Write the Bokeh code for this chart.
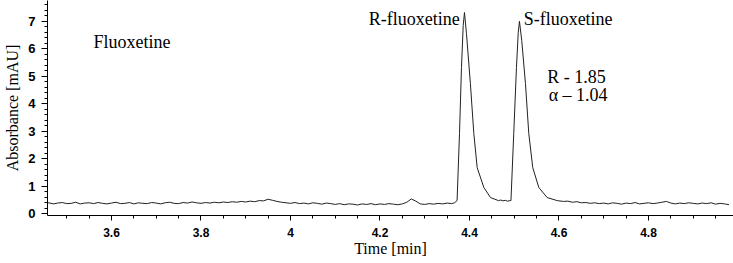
from bokeh.plotting import figure
from bokeh.models import Label, Range1d, FixedTicker
from bokeh.embed import file_html
from bokeh.resources import INLINE

# ---- data ----
base1_t = [3.45, 3.46, 3.47, 3.48, 3.49, 3.50, 3.51, 3.52, 3.53, 3.54, 3.55, 3.56, 3.57, 3.58, 3.59,
           3.60, 3.61, 3.62, 3.63, 3.64, 3.65, 3.66, 3.67, 3.68, 3.69,
           3.70, 3.71, 3.72, 3.73, 3.74, 3.75, 3.76, 3.77, 3.78, 3.79,
           3.80, 3.81, 3.82, 3.83, 3.84, 3.85, 3.86, 3.87, 3.88, 3.89,
           3.90, 3.91, 3.92, 3.93, 3.94, 3.95, 3.96, 3.97, 3.98, 3.99,
           4.00, 4.01, 4.02, 4.03, 4.04, 4.05, 4.06, 4.07, 4.08, 4.09,
           4.10, 4.11, 4.12, 4.13, 4.14, 4.15, 4.16, 4.17, 4.18, 4.19,
           4.20, 4.21, 4.22, 4.23, 4.24, 4.25, 4.26, 4.27, 4.28, 4.29,
           4.30, 4.31, 4.32, 4.33, 4.34, 4.35, 4.36]
base1_a = [0.37, 0.40, 0.36, 0.39, 0.41, 0.37, 0.38, 0.42, 0.36, 0.39, 0.40, 0.37, 0.41, 0.38, 0.36,
           0.39, 0.42, 0.37, 0.38, 0.41, 0.36, 0.40, 0.38, 0.37, 0.41,
           0.39, 0.36, 0.40, 0.42, 0.38, 0.37, 0.41, 0.39, 0.43, 0.40,
           0.38, 0.41, 0.39, 0.42, 0.40, 0.43, 0.41, 0.44, 0.42, 0.45,
           0.43, 0.46, 0.44, 0.48, 0.47, 0.53, 0.49, 0.45, 0.42, 0.40,
           0.38, 0.41, 0.37, 0.39, 0.36, 0.40, 0.38, 0.35, 0.39, 0.37,
           0.34, 0.37, 0.33, 0.36, 0.35, 0.32, 0.36, 0.34, 0.37, 0.33,
           0.36, 0.34, 0.37, 0.35, 0.33, 0.36, 0.42, 0.54, 0.46, 0.36,
           0.34, 0.37, 0.35, 0.38, 0.36, 0.39, 0.37]

# R-fluoxetine peak
peakR_t = [4.3665, 4.3723, 4.3777, 4.3821, 4.3860, 4.3888, 4.3933, 4.4020, 4.4097, 4.4172, 4.4320, 4.4470, 4.4648]
peakR_a = [0.40, 0.48, 2.92, 5.32, 6.85, 7.32, 6.55, 4.74, 2.92, 1.68, 0.96, 0.59, 0.48]

# valley between peaks
valley_t = [4.470, 4.475, 4.480, 4.485, 4.490]
valley_a = [0.50, 0.47, 0.49, 0.46, 0.48]

# S-fluoxetine peak
peakS_t = [4.4927, 4.4989, 4.5050, 4.5090, 4.5117, 4.5168, 4.5251, 4.5325, 4.5414, 4.5548, 4.5736, 4.5960]
peakS_a = [0.48, 2.92, 5.32, 6.60, 7.00, 6.30, 4.74, 2.92, 1.68, 0.96, 0.59, 0.48]

base2_t = [4.60, 4.61, 4.62, 4.63, 4.64, 4.65, 4.66, 4.67, 4.68, 4.69, 4.70,
           4.71, 4.72, 4.73, 4.74, 4.75, 4.76, 4.77, 4.78, 4.79, 4.80,
           4.81, 4.82, 4.83, 4.84, 4.85, 4.86, 4.87, 4.88, 4.89, 4.90,
           4.91, 4.92, 4.93, 4.94, 4.95, 4.96, 4.97, 4.98]
base2_a = [0.47, 0.45, 0.46, 0.42, 0.44, 0.40, 0.41, 0.38, 0.40, 0.37, 0.39,
           0.36, 0.40, 0.38, 0.35, 0.39, 0.37, 0.41, 0.36, 0.38, 0.40,
           0.37, 0.39, 0.42, 0.45, 0.39, 0.36, 0.39, 0.37, 0.40, 0.38,
           0.36, 0.39, 0.37, 0.40, 0.35, 0.38, 0.36, 0.33]

time_min = base1_t + peakR_t + valley_t + peakS_t + base2_t
absorbance = base1_a + peakR_a + valley_a + peakS_a + base2_a

x_ticks = [3.6, 3.8, 4.0, 4.2, 4.4, 4.6, 4.8]
x_tick_labels = {3.6: "3.6", 3.8: "3.8", 4.0: "4", 4.2: "4.2", 4.4: "4.4", 4.6: "4.6", 4.8: "4.8"}
y_ticks = [0, 1, 2, 3, 4, 5, 6, 7]

x_title = "Time [min]"
y_title = "Absorbance [mAU]"

annotations = [
    ("Fluoxetine", 3.560, 6.23, "left"),
    ("R-fluoxetine", 4.378, 7.10, "right"),
    ("S-fluoxetine", 4.521, 7.10, "left"),
    ("R - 1.85", 4.574, 4.97, "left"),
    ("\u03b1 \u2013 1.04", 4.577, 4.33, "left"),
]

# ---- figure ----
p = figure(width=733, height=263, output_backend="svg", toolbar_location=None,
           x_range=Range1d(3.457, 4.990), y_range=Range1d(-0.062, 7.756),
           min_border_left=47, min_border_right=0, min_border_top=0, min_border_bottom=48)
p.outline_line_color = None
p.xgrid.visible = False
p.ygrid.visible = False
p.background_fill_color = "white"
p.border_fill_color = "white"

p.line(time_min, absorbance, line_color="#222222", line_width=1)

serif = "Liberation Serif"
sans = "Liberation Sans"

p.xaxis.ticker = FixedTicker(ticks=x_ticks, minor_ticks=[round(3.45 + 0.05 * i, 2) for i in range(32)])
p.xaxis.major_label_overrides = x_tick_labels
p.yaxis.ticker = FixedTicker(ticks=y_ticks, minor_ticks=[round(0.2 * i, 1) for i in range(39)])

for ax in (p.xaxis, p.yaxis):
    ax.axis_line_color = "black"
    ax.major_tick_line_color = "black"
    ax.minor_tick_line_color = "black"
    ax.major_tick_in = 0
    ax.minor_tick_in = 0
    ax.major_label_text_font = sans
    ax.major_label_text_font_style = "bold"
    ax.major_label_text_color = "black"
    ax.axis_label_text_font = serif
    ax.axis_label_text_font_style = "normal"
    ax.axis_label_text_font_size = "16px"
    ax.axis_label_text_color = "black"

p.xaxis.major_tick_out = 5
p.xaxis.minor_tick_out = 3
p.xaxis.major_label_standoff = 7
p.xaxis.major_label_text_font_size = "12px"
p.xaxis.axis_label = x_title
p.xaxis.axis_label_standoff = 0

p.yaxis.major_tick_out = 6
p.yaxis.minor_tick_out = 3
p.yaxis.major_label_standoff = 6
p.yaxis.major_label_text_font_size = "13px"
p.yaxis.axis_label = y_title
p.yaxis.axis_label_standoff = 4

for txt, x, y, align in annotations:
    p.add_layout(Label(x=x, y=y, text=txt, text_align=align, text_baseline="alphabetic",
                       text_font=serif, text_font_size="18px", text_color="black"))

open("out.html", "w").write(file_html(p, INLINE))
